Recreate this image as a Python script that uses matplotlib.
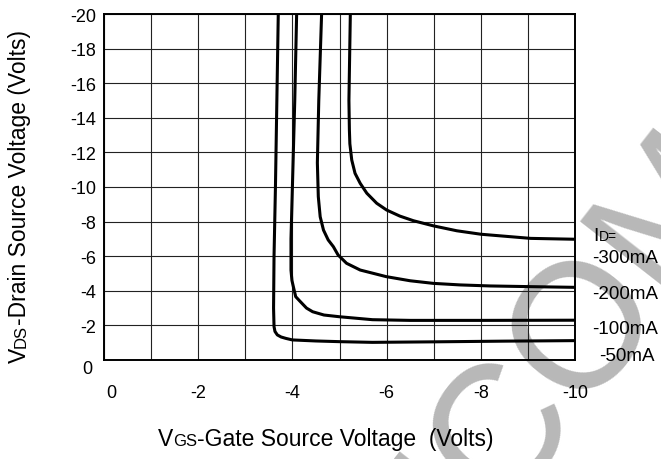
import matplotlib
matplotlib.use("Agg")
import matplotlib.pyplot as plt
from matplotlib.transforms import IdentityTransform, offset_copy

plt.rcParams['font.family'] = ['Liberation Sans', 'DejaVu Sans']

# ---- data (VGS, VDS in volts) ----
vgs_50 = [-3.70, -3.67, -3.64, -3.61, -3.60, -3.61, -3.63, -3.68, -3.76, -3.86,
          -4.00, -4.50, -5.00, -5.70, -7.00, -8.50, -10.00]
vds_50 = [-20.0, -15.0, -10.0, -6.0, -3.0, -1.93, -1.65, -1.45, -1.33, -1.25,
          -1.16, -1.10, -1.06, -1.02, -1.05, -1.09, -1.12]

vgs_100 = [-4.09, -4.05, -4.00, -3.97, -3.97, -3.99, -4.02, -4.07, -4.17, -4.30,
           -4.43, -4.67, -5.00, -5.70, -6.50, -8.00, -10.00]
vds_100 = [-20.0, -15.0, -10.0, -7.0, -5.2, -4.6, -4.24, -3.66, -3.37, -3.00,
           -2.79, -2.60, -2.50, -2.33, -2.29, -2.29, -2.30]

vgs_200 = [-4.62, -4.56, -4.53, -4.55, -4.59, -4.66, -4.76, -4.87, -4.97, -5.15,
           -5.44, -5.99, -6.50, -6.99, -7.56, -8.20, -9.06, -10.00]
vds_200 = [-20.0, -15.0, -11.4, -9.44, -8.28, -7.51, -6.94, -6.55, -6.07, -5.59,
           -5.20, -4.82, -4.58, -4.43, -4.34, -4.28, -4.24, -4.20]

vgs_300 = [-5.23, -5.20, -5.21, -5.22, -5.26, -5.33, -5.44, -5.58, -5.79, -6.00,
           -6.28, -6.57, -7.00, -7.49, -8.00, -9.06, -10.00]
vds_300 = [-20.0, -15.0, -13.3, -12.5, -11.56, -10.79, -10.21, -9.64, -9.06, -8.67,
           -8.32, -8.05, -7.75, -7.47, -7.27, -7.03, -6.98]

curves = [(vgs_50, vds_50), (vgs_100, vds_100), (vgs_200, vds_200), (vgs_300, vds_300)]
id_labels = ["-300mA", "-200mA", "-100mA", "-50mA"]

xticks = [0, -2, -4, -6, -8, -10]
yticks = [-20, -18, -16, -14, -12, -10, -8, -6, -4, -2, 0]

fig = plt.figure(figsize=(6.61, 4.59), dpi=100)
fig.patch.set_facecolor("white")
ax = fig.add_axes([104 / 661, 99 / 459, 471 / 661, 346 / 459])
ax.patch.set_visible(False)

# watermark in the background
fig.text(347, -242, "RECOMMENDED", fontsize=128, color="#b8b8b8", rotation=52,
         rotation_mode="anchor", ha="left", va="baseline",
         transform=IdentityTransform(), zorder=-5)

for vg, vd in curves:
    ax.plot(vg, vd, color="black", lw=2.2, solid_capstyle="butt",
            solid_joinstyle="round", zorder=3)

ax.set_xlim(0, -10)
ax.set_ylim(0, -20)
ax.set_xticks(range(0, -11, -1))
ax.set_yticks(range(0, -21, -2))
ax.grid(True, color="#222222", lw=0.8)
ax.tick_params(length=0, labelbottom=False, labelleft=False)
for s in ax.spines.values():
    s.set_linewidth(1.4)

# tick labels
for v in xticks:
    dx = 7 if v == 0 else 0
    tr = offset_copy(ax.get_xaxis_transform(), fig=fig, x=dx, y=-33, units="dots")
    ax.text(v, 0, str(v), transform=tr, ha="center", va="center", fontsize=13)
for v in yticks:
    dx, dy = (-12, -10) if v == 0 else (-8, -3)
    tr = offset_copy(ax.get_yaxis_transform(), fig=fig, x=dx, y=dy, units="dots")
    ax.text(0, v, str(v), transform=tr, ha="right", va="center", fontsize=13)


def rich_text(parts, x, y, rot=0):
    r = fig.canvas.get_renderer()
    for s, size in parts:
        t = fig.text(x, y, s, fontsize=size, rotation=rot, rotation_mode="anchor",
                     ha="left", va="baseline", transform=IdentityTransform())
        bb = t.get_window_extent(r)
        if rot == 0:
            x = bb.x1
        else:
            y = bb.y1


rich_text([("V", 16.5), ("GS", 12), ("-Gate Source Voltage  (Volts)", 16.5)], 158, 13)
rich_text([("V", 16.5), ("DS", 12), ("-Drain Source Voltage (Volts)", 16.5)], 26, 96, rot=90)

# drain current labels
rich_text([("I", 14), ("D=", 10)], 593, 218)
for lab, yy in zip(id_labels, [196, 160, 125, 98]):
    xx = 599 if lab == "-50mA" else 592
    fig.text(xx, yy, lab, fontsize=13.5, ha="left", va="baseline",
             transform=IdentityTransform())

fig.savefig("out.png", dpi=100)
